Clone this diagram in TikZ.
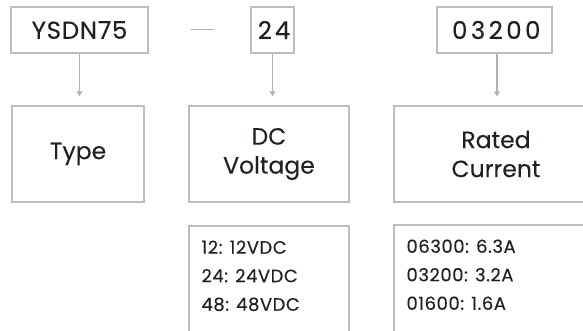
\documentclass[tikz,border=0pt]{standalone}
\usepackage{fontspec}
\setmainfont{Poppins}[FakeBold=0.12]
\usetikzlibrary{arrows.meta}
\definecolor{boxgray}{HTML}{BDBDBD}
\definecolor{arrgray}{HTML}{B3B3B3}
\definecolor{txt}{HTML}{231F20}
\tikzset{
  x=1pt,y=1pt,
  codebox/.style={draw=boxgray, line width=1.4pt, text=txt, inner sep=0pt, font=\fontsize{24.5}{26}\selectfont},
  catbox/.style={draw=boxgray, line width=1.4pt, text=txt, inner sep=0pt, align=center, font=\fontsize{23.5}{29}\selectfont},
  listbox/.style={draw=boxgray, line width=1.4pt, inner sep=0pt},
  listtext/.style={text=txt, inner sep=0pt, align=left, anchor=north west, font=\fontsize{18}{28.5}\selectfont\addfontfeatures{LetterSpace=3}},
  downarrow/.style={draw=arrgray, line width=1.2pt, -{Triangle[width=6pt,length=5pt]}, shorten >=9pt},
}
\begin{document}
\begin{tikzpicture}
\useasboundingbox (0,0) rectangle (583,-331);
\clip (0,0) rectangle (583,-331);
% code boxes
\node[codebox, minimum width=137, minimum height=46] (ysdn) at (79.5,-30) {\addfontfeatures{LetterSpace=3}YSDN75};
\node[codebox, minimum width=43, minimum height=46] (v24) at (272.5,-30) {\addfontfeatures{LetterSpace=12}24\kern-3pt};
\node[codebox, minimum width=115, minimum height=46] (c032) at (494.5,-30) {\addfontfeatures{LetterSpace=14}03200\kern-3.5pt};
% separator dash
\draw[arrgray, line width=1pt] (191,-30) -- (214,-30);
% category boxes
\node[catbox, minimum width=132, minimum height=96] (type) at (78,-154) {Type};
\node[catbox, minimum width=160, minimum height=96] (dcv) at (269,-154) {DC\\Voltage};
\node[catbox, minimum width=204, minimum height=96] (rated) at (496,-154) {Rated\\Current};
% list boxes
\node[listbox, minimum width=160, minimum height=120] (dclist) at (269,-286) {};
\node[listbox, minimum width=204, minimum height=120] (clist) at (496,-285) {};
\node[listtext] (dclisttxt) at ([xshift=13,yshift=-15]dclist.north west) {12: 12VDC\\24: 24VDC\\48: 48VDC};
\node[listtext] (clisttxt) at ([xshift=13,yshift=-15]clist.north west) {06300: 6.3A\\03200: 3.2A\\01600: 1.6A};
% arrows
\draw[downarrow] (ysdn.south) -- (ysdn.south |- type.north);
\draw[downarrow] (v24.south) -- (v24.south |- dcv.north);
\draw[downarrow] ([xshift=2.5]c032.south) -- ([xshift=2.5]c032.south |- rated.north);
\end{tikzpicture}
\end{document}
